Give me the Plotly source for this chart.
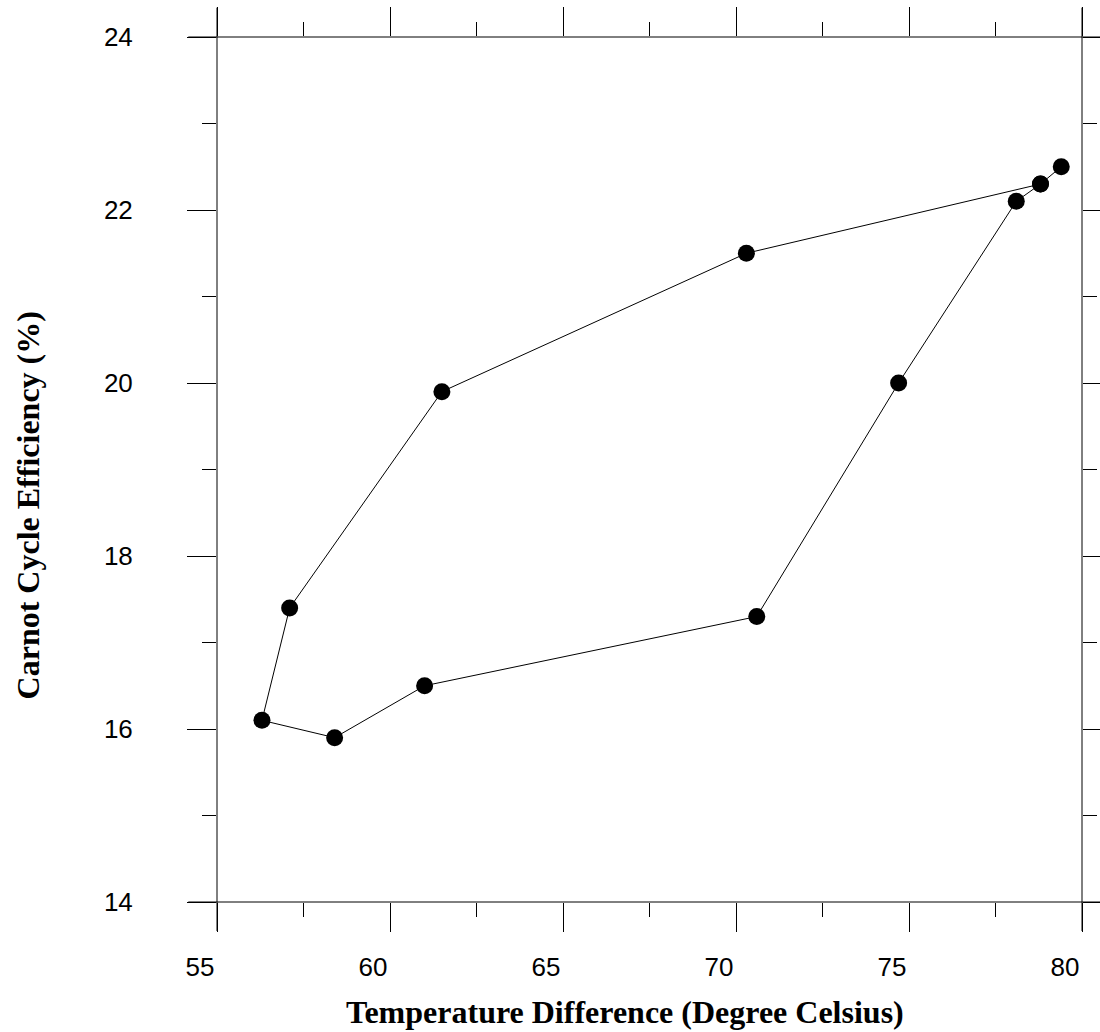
import plotly.graph_objects as go

# Daily loop of temperature difference vs. Carnot efficiency
temp_diff = [79.4, 78.8, 78.1, 74.7, 70.6, 61.0, 58.4, 56.3, 57.1, 61.5, 70.3, 78.8]
efficiency = [22.5, 22.3, 22.1, 20.0, 17.3, 16.5, 15.9, 16.1, 17.4, 19.9, 21.5, 22.3]

x_ticks = [55, 60, 65, 70, 75, 80]
y_ticks = [14, 16, 18, 20, 22, 24]

fig = go.Figure()
fig.add_trace(go.Scatter(
    x=temp_diff, y=efficiency, mode="lines+markers",
    line=dict(color="black", width=1),
    marker=dict(color="black", size=17),
    showlegend=False, cliponaxis=False,
))

tick_font = dict(family="Liberation Sans, Arial, sans-serif", size=26, color="black")
title_font = dict(family="Liberation Serif, Times New Roman, serif", size=32, color="black")

fig.update_xaxes(
    range=[55, 80], tickvals=x_ticks, ticktext=[str(v) for v in x_ticks],
    ticks="outside", ticklen=29, tickwidth=1, tickcolor="black",
    minor=dict(dtick=2.5, tick0=55, ticks="outside", ticklen=14, tickwidth=1, tickcolor="black"),
    mirror="ticks", showline=False, showgrid=False, zeroline=False,
    tickfont=tick_font, ticklabelshift=-17, ticklabelstandoff=13,
)
fig.update_yaxes(
    range=[14, 24], tickvals=y_ticks, ticktext=[str(v) for v in y_ticks],
    ticks="outside", ticklen=29, tickwidth=1, tickcolor="black",
    minor=dict(dtick=1, tick0=14, ticks="outside", ticklen=14, tickwidth=1, tickcolor="black"),
    mirror="ticks", showline=False, showgrid=False, zeroline=False,
    tickfont=tick_font, ticklabelstandoff=49,
)

# Frame lines that run past the plot corners
ext_x0, ext_x1 = -0.0332, 1.03
ext_y0, ext_y1 = -0.0335, 1.0339
for yy in (0, 1):
    fig.add_shape(type="line", xref="paper", yref="paper", x0=ext_x0, x1=ext_x1, y0=yy, y1=yy,
                  line=dict(color="black", width=1))
for xx in (0, 1):
    fig.add_shape(type="line", xref="paper", yref="paper", x0=xx, x1=xx, y0=ext_y0, y1=ext_y1,
                  line=dict(color="black", width=1))

fig.add_annotation(text="<b>Temperature Difference (Degree Celsius)</b>", xref="paper", yref="paper",
                   x=0.472, y=-0.1276, showarrow=False, font=title_font,
                   xanchor="center", yanchor="middle")
fig.add_annotation(text="<b>Carnot Cycle Efficiency (%)</b>", xref="paper", yref="paper",
                   x=-0.218, y=0.459, showarrow=False, font=title_font, textangle=-90,
                   xanchor="center", yanchor="middle")

fig.update_layout(
    width=1100, height=1032,
    margin=dict(l=217, r=18, t=37, b=130),
    plot_bgcolor="white", paper_bgcolor="white",
)

fig.write_html("out.html")
